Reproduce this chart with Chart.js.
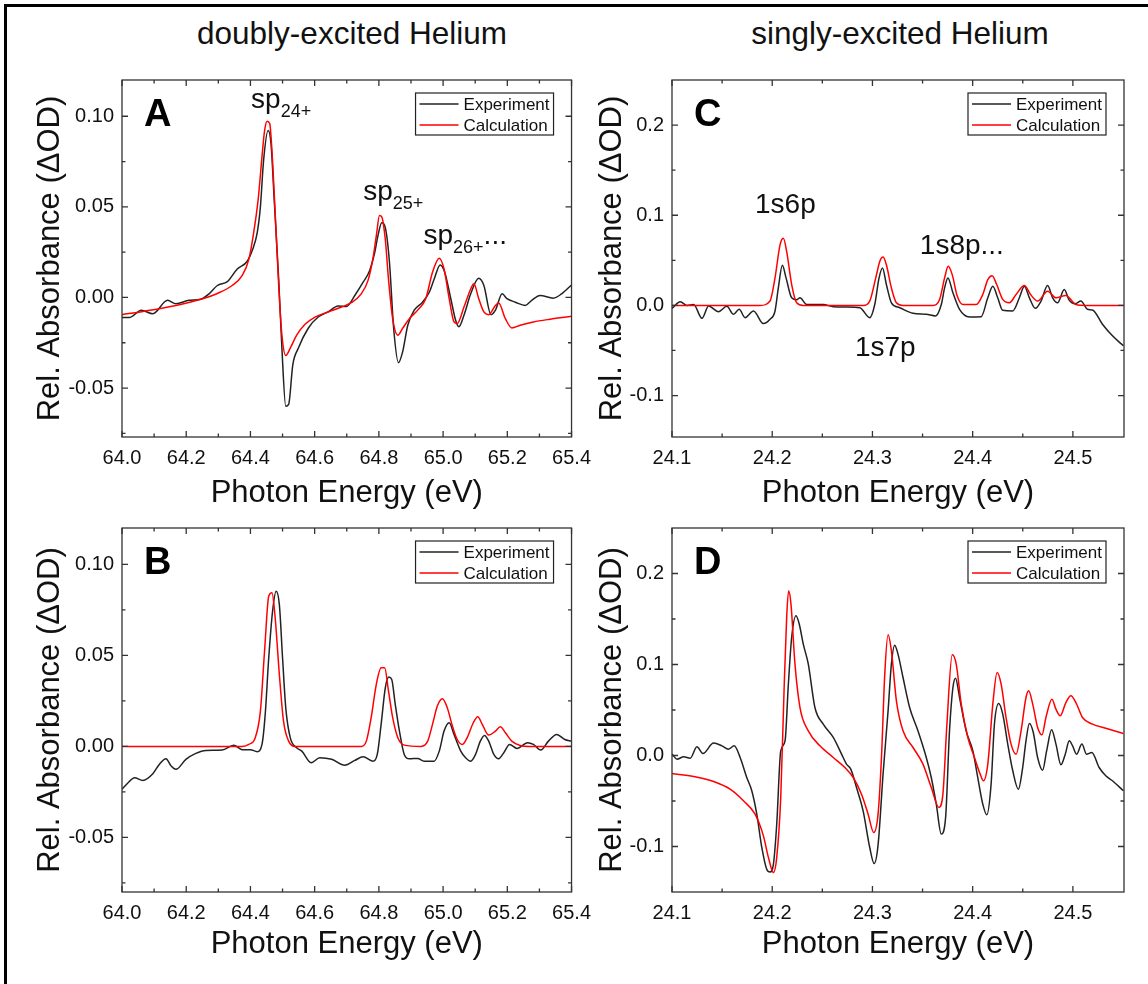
<!DOCTYPE html>
<html>
<head>
<meta charset="utf-8">
<script src="https://cdn.jsdelivr.net/npm/chart.js@4.4.0/dist/chart.umd.min.js"></script>
<style>
  body { margin: 0; background: #fff; width: 1148px; height: 984px; position: relative; overflow: hidden;
         font-family: Arial, "Liberation Sans", sans-serif; }
  #frame { position: absolute; left: 4px; top: 4px; width: 1200px; height: 1100px;
           border-top: 3px solid #000; border-left: 3px solid #000; }
  .hd { position: absolute; top: 15px; width: 500px; text-align: center; font-size: 31.5px; line-height: 36px; color: #111; }
  canvas { position: absolute; }
</style>
</head>
<body>
<div id="frame"></div>
<div class="hd" style="left:102px">doubly-excited Helium</div>
<div class="hd" style="left:650px">singly-excited Helium</div>
<canvas id="cA" width="600" height="460" style="left:0;top:60px"></canvas>
<canvas id="cB" width="600" height="476" style="left:0;top:508px"></canvas>
<canvas id="cC" width="588" height="460" style="left:560px;top:60px"></canvas>
<canvas id="cD" width="588" height="476" style="left:560px;top:508px"></canvas>

<script>
// axis ticks
const xTicksAB = [64.0, 64.2, 64.4, 64.6, 64.8, 65.0, 65.2, 65.4];
const xMinorAB = [64.1, 64.3, 64.5, 64.7, 64.9, 65.1, 65.3];
const yTicksAB = [-0.05, 0, 0.05, 0.10];
const yMinorAB = [-0.075, -0.025, 0.025, 0.075];
const xTicksCD = [24.1, 24.2, 24.3, 24.4, 24.5];
const xMinorCD = [24.15, 24.25, 24.35, 24.45];
const yTicksCD = [-0.1, 0, 0.1, 0.2];
const yMinorCD = [-0.05, 0.05, 0.15];

// panel A: doubly-excited, [eV, dOD]
const expA = [[64.000,-0.011],[64.024,-0.011],[64.060,-0.007],[64.096,-0.009],[64.142,-0.0016],[64.168,-0.0035],
  [64.209,-0.0016],[64.245,-0.001],[64.271,0.002],[64.297,0.0066],[64.328,0.0087],[64.359,0.0157],[64.390,0.020],
  [64.407,0.0266],[64.421,0.0357],[64.431,0.050],[64.441,0.0758],[64.455,0.0922],[64.464,0.085],[64.474,0.054],
  [64.488,0.010],[64.498,-0.028],[64.510,-0.060],[64.519,-0.059],[64.532,-0.037],[64.549,-0.028],[64.580,-0.017],
  [64.611,-0.0108],[64.642,-0.008],[64.673,-0.0047],[64.699,-0.005],[64.725,0.0011],[64.751,0.0084],[64.771,0.0148],
  [64.787,0.0248],[64.797,0.034],[64.809,0.0412],[64.820,0.0385],[64.833,0.0193],[64.846,-0.017],[64.861,-0.036],
  [64.874,-0.030],[64.890,-0.0153],[64.910,-0.007],[64.936,-0.0026],[64.957,0.0029],[64.972,0.010],[64.991,0.0179],
  [65.005,0.0139],[65.024,-0.0007],[65.039,-0.0126],[65.049,-0.0162],[65.065,-0.0098],[65.086,0.002],[65.111,0.0106],
  [65.127,0.0066],[65.149,-0.0095],[65.163,-0.007],[65.184,0.002],[65.199,-0.0007],[65.225,-0.0026],[65.256,-0.0044],
  [65.276,-0.0016],[65.302,0.0011],[65.343,-0.0004],[65.369,0.002],[65.400,0.0069]];
const calcA = [[64.000,-0.0095],[64.065,-0.0077],[64.168,-0.0044],[64.251,-0.0007],[64.302,0.0026],[64.343,0.0066],
  [64.374,0.012],[64.395,0.021],[64.410,0.0357],[64.424,0.054],[64.436,0.0777],[64.444,0.092],[64.452,0.0972],
  [64.460,0.096],[64.467,0.081],[64.477,0.0467],[64.488,0.0066],[64.498,-0.0208],[64.510,-0.032],[64.524,-0.028],
  [64.544,-0.0208],[64.570,-0.0148],[64.601,-0.0108],[64.642,-0.008],[64.684,-0.0053],[64.714,-0.0029],[64.745,0.002],
  [64.766,0.0093],[64.781,0.021],[64.792,0.034],[64.802,0.0452],[64.809,0.0445],[64.820,0.032],[64.830,0.010],
  [64.843,-0.0117],[64.859,-0.0208],[64.874,-0.017],[64.895,-0.0117],[64.921,-0.007],[64.946,-0.0007],[64.967,0.0139],
  [64.988,0.0217],[65.003,0.0157],[65.019,-0.0007],[65.034,-0.0135],[65.044,-0.0144],[65.065,-0.0053],[65.086,0.0047],
  [65.096,0.0075],[65.111,-0.0007],[65.127,-0.008],[65.142,-0.0095],[65.163,-0.0044],[65.173,-0.0031],[65.194,-0.0117],
  [65.214,-0.0168],[65.240,-0.0153],[65.281,-0.0135],[65.333,-0.012],[65.400,-0.0104]];

// panel B
const expB = [[64.000,-0.0236],[64.019,-0.020],[64.039,-0.0172],[64.065,-0.0187],[64.096,-0.015],[64.116,-0.0099],
  [64.137,-0.0068],[64.153,-0.0108],[64.168,-0.0126],[64.199,-0.0071],[64.230,-0.0038],[64.261,-0.0022],[64.312,-0.002],
  [64.348,0.0007],[64.374,-0.0018],[64.400,-0.0018],[64.421,-0.0029],[64.436,0.0011],[64.446,0.0176],[64.457,0.0487],
  [64.469,0.0744],[64.480,0.0853],[64.490,0.078],[64.500,0.0487],[64.510,0.0212],[64.524,0.0048],[64.544,-0.0007],
  [64.560,-0.0026],[64.589,-0.009],[64.616,-0.0062],[64.653,-0.0071],[64.694,-0.0103],[64.725,-0.0077],[64.751,-0.0057],
  [64.781,-0.0081],[64.795,-0.0044],[64.807,0.0121],[64.820,0.0322],[64.831,0.0381],[64.840,0.0368],[64.851,0.0231],
  [64.864,0.0084],[64.879,-0.0044],[64.895,-0.0068],[64.921,-0.0066],[64.941,-0.0081],[64.972,-0.0081],[64.988,-0.0026],
  [65.003,0.0084],[65.019,0.013],[65.034,0.0066],[65.055,-0.0026],[65.070,-0.0062],[65.086,-0.0081],[65.101,-0.0044],
  [65.116,0.0029],[65.129,0.006],[65.142,0.0029],[65.158,-0.0044],[65.173,-0.0068],[65.189,-0.0035],[65.207,0.0011],
  [65.230,-0.0011],[65.263,0.002],[65.281,0.0011],[65.304,-0.002],[65.328,0.0029],[65.354,0.0066],[65.379,0.0038],
  [65.400,0.0029]];
const calcB = [[64.000,0],[64.374,0],[64.395,0.0011],[64.415,0.0048],[64.431,0.0194],[64.444,0.0524],[64.457,0.0826],
  [64.467,0.0844],[64.477,0.0707],[64.490,0.0396],[64.503,0.0139],[64.519,0.0029],[64.539,0],[64.745,0],[64.761,0.0029],
  [64.776,0.0158],[64.792,0.0341],[64.807,0.0432],[64.818,0.0432],[64.830,0.0304],[64.843,0.0158],[64.859,0.0048],
  [64.879,0.0007],[64.931,0],[64.952,0.0029],[64.967,0.0121],[64.982,0.0222],[64.998,0.0262],[65.013,0.0212],
  [65.029,0.0112],[65.044,0.0038],[65.060,0.0011],[65.075,0.0048],[65.094,0.013],[65.108,0.0163],[65.122,0.0121],
  [65.142,0.0062],[65.163,0.0084],[65.178,0.0108],[65.194,0.0075],[65.214,0.0029],[65.240,0.0005],[65.271,0],[65.400,0]];

// panel C: singly-excited
const expC = [[24.1000,-0.0033],[24.1083,0.004],[24.1149,0],[24.1216,0.001],[24.1299,-0.0143],[24.1365,-0.0007],
  [24.1464,-0.007],[24.1547,-0.001],[24.1614,-0.0099],[24.1670,-0.0044],[24.1730,-0.0136],[24.1813,-0.0062],
  [24.1912,-0.0202],[24.1978,-0.0154],[24.2028,-0.0062],[24.2061,0.0194],[24.2101,0.0444],[24.2138,0.0305],
  [24.2194,0.0084],[24.2244,0.0062],[24.2277,0.0084],[24.2343,0.001],[24.2410,0.001],[24.2509,0.001],[24.2609,-0.0015],
  [24.2741,-0.0018],[24.2874,-0.0026],[24.2973,-0.0136],[24.3023,0.001],[24.3066,0.0305],[24.3100,0.0415],
  [24.3139,0.0231],[24.3189,0.0029],[24.3272,-0.0026],[24.3405,-0.0088],[24.3537,-0.0099],[24.3630,-0.0117],
  [24.3687,0.001],[24.3720,0.0194],[24.3753,0.0305],[24.3803,0.0139],[24.3869,-0.0044],[24.3968,-0.0128],
  [24.4085,-0.0125],[24.4151,0.0084],[24.4201,0.0213],[24.4250,0.0084],[24.4300,-0.0055],[24.4400,-0.0062],
  [24.4466,0.0084],[24.4516,0.0213],[24.4566,0.0084],[24.4625,-0.0033],[24.4682,0.0048],[24.4748,0.022],
  [24.4798,0.0084],[24.4847,0.0029],[24.4914,0.0176],[24.4964,0.0055],[24.5023,0.0018],[24.5080,0.0048],
  [24.5146,-0.0044],[24.5196,-0.0051],[24.5295,-0.0209],[24.5395,-0.0338],[24.5504,-0.0448]];
const calcC = [[24.1000,0],[24.1879,0],[24.1978,0.0048],[24.2028,0.0305],[24.2078,0.0672],[24.2111,0.0745],
  [24.2144,0.0598],[24.2194,0.0231],[24.2244,0.0029],[24.2310,0],[24.2907,0],[24.2973,0.0048],[24.3033,0.0305],
  [24.3073,0.0488],[24.3106,0.0536],[24.3139,0.0451],[24.3189,0.0194],[24.3239,0.0029],[24.3305,0],[24.3604,0],
  [24.3670,0.0066],[24.3720,0.0305],[24.3756,0.0433],[24.3796,0.0341],[24.3846,0.0103],[24.3902,0.001],[24.4035,0.001],
  [24.4101,0.0121],[24.4151,0.0286],[24.4194,0.033],[24.4240,0.0231],[24.4300,0.0066],[24.4367,0.0029],[24.4433,0.0121],
  [24.4516,0.022],[24.4582,0.0114],[24.4648,0.0048],[24.4748,0.0158],[24.4831,0.0084],[24.4930,0.011],[24.5030,0.001],
  [24.5129,0],[24.5504,0]];

// panel D
const expD = [[24.1000,0.0015],[24.1050,-0.004],[24.1116,-0.0015],[24.1182,-0.003],[24.1249,0.0095],[24.1308,0.0022],
  [24.1415,0.0136],[24.1498,0.0106],[24.1564,0.007],[24.1620,0.0106],[24.1680,-0.0022],[24.1746,-0.0242],
  [24.1796,-0.0388],[24.1846,-0.0645],[24.1896,-0.101],[24.1945,-0.125],[24.1978,-0.128],[24.2012,-0.1194],
  [24.2045,-0.0755],[24.2085,0.0051],[24.2128,0.0161],[24.2161,0.0784],[24.2194,0.1297],[24.2237,0.1535],
  [24.2270,0.1443],[24.2310,0.1223],[24.2360,0.1004],[24.2426,0.0527],[24.2509,0.0344],[24.2609,0.0198],
  [24.2692,0.0015],[24.2741,-0.0095],[24.2784,-0.015],[24.2841,-0.0352],[24.2907,-0.0608],[24.2973,-0.1011],
  [24.3017,-0.1187],[24.3056,-0.0985],[24.3106,-0.0205],[24.3156,0.0491],[24.3189,0.1004],[24.3222,0.1212],
  [24.3255,0.1114],[24.3305,0.0857],[24.3371,0.0527],[24.3454,0.0271],[24.3537,-0.0022],[24.3587,-0.0242],
  [24.3637,-0.0535],[24.3687,-0.0864],[24.3730,-0.0681],[24.3769,0.0271],[24.3803,0.0747],[24.3829,0.085],
  [24.3869,0.0637],[24.3935,0.0271],[24.4002,0.0051],[24.4051,-0.0242],[24.4101,-0.0535],[24.4141,-0.0652],
  [24.4184,-0.0315],[24.4217,0.0344],[24.4260,0.0571],[24.4300,0.0454],[24.4350,0.0125],[24.4400,-0.0168],
  [24.4456,-0.037],[24.4499,-0.0132],[24.4532,0.0161],[24.4566,0.0352],[24.4605,0.0253],[24.4648,-0.0022],
  [24.4698,-0.0161],[24.4738,0.0051],[24.4788,0.0282],[24.4831,0.0125],[24.4881,-0.0103],[24.4924,0.0015],
  [24.4964,0.0161],[24.4997,0.0106],[24.5036,0.0015],[24.5090,0.0125],[24.5136,0.0015],[24.5189,0.0033],
  [24.5262,-0.0132],[24.5328,-0.0223],[24.5395,-0.0278],[24.5504,-0.0388]];
const calcD = [[24.1000,-0.0198],[24.1216,-0.0231],[24.1415,-0.0286],[24.1580,-0.037],[24.1713,-0.0498],
  [24.1829,-0.0645],[24.1912,-0.0883],[24.1962,-0.112],[24.2012,-0.1286],[24.2045,-0.112],[24.2085,-0.0462],
  [24.2118,0.0711],[24.2144,0.1516],[24.2164,0.181],[24.2187,0.1663],[24.2227,0.1004],[24.2277,0.0527],
  [24.2360,0.0271],[24.2476,0.0106],[24.2609,-0.0022],[24.2725,-0.0132],[24.2808,-0.0242],[24.2891,-0.0425],
  [24.2957,-0.0645],[24.3013,-0.0846],[24.3056,-0.0645],[24.3090,-0.0022],[24.3123,0.0894],[24.3156,0.1326],
  [24.3189,0.115],[24.3239,0.0601],[24.3305,0.0271],[24.3405,0.0088],[24.3504,-0.0095],[24.3587,-0.0352],
  [24.3663,-0.0571],[24.3703,-0.0425],[24.3743,0.0344],[24.3796,0.1106],[24.3836,0.1004],[24.3886,0.0564],
  [24.3952,0.0198],[24.4018,-0.0022],[24.4075,-0.0205],[24.4108,-0.0278],[24.4151,-0.0095],[24.4201,0.0564],
  [24.4244,0.0912],[24.4284,0.0784],[24.4333,0.0418],[24.4383,0.0125],[24.4433,0.0015],[24.4483,0.0271],
  [24.4532,0.0637],[24.4559,0.0711],[24.4599,0.0564],[24.4648,0.0308],[24.4692,0.0227],[24.4731,0.0418],
  [24.4791,0.0619],[24.4831,0.0509],[24.4874,0.0436],[24.4930,0.0582],[24.4980,0.0656],[24.5030,0.0582],
  [24.5096,0.0418],[24.5196,0.0344],[24.5328,0.03],[24.5504,0.0242]];

// peak labels (anchored in data units)
const labelsA = [
  { x: 64.402, y: 0.1047, main: 'sp', sub: '24+', tail: '' },
  { x: 64.751, y: 0.054, main: 'sp', sub: '25+', tail: '' },
  { x: 64.939, y: 0.0294, main: 'sp', sub: '26+', tail: '...' }
];
const labelsC = [
  { x: 24.1828, y: 0.1027, main: '1s6p', sub: '', tail: '' },
  { x: 24.3473, y: 0.0566, main: '1s8p...', sub: '', tail: '' },
  { x: 24.2825, y: -0.0566, main: '1s7p', sub: '', tail: '' }
];

const FONT = 'Arial, "Liberation Sans", sans-serif';
Chart.defaults.font.family = FONT;
Chart.defaults.color = '#111';

function decorations(letter, labels, cfg) {
  return {
    id: 'deco' + letter,
    afterDatasetsDraw(chart) {
      const { ctx, chartArea: a, scales: { x, y } } = chart;
      ctx.save();
      // frame
      ctx.strokeStyle = '#333';
      ctx.lineWidth = 1.3;
      ctx.strokeRect(a.left, a.top, a.right - a.left, a.bottom - a.top);
      // inward ticks on all four sides
      ctx.beginPath();
      const xt = (vals, len) => vals.forEach(v => {
        const px = x.getPixelForValue(v);
        ctx.moveTo(px, a.bottom); ctx.lineTo(px, a.bottom - len);
        ctx.moveTo(px, a.top); ctx.lineTo(px, a.top + len);
      });
      const yt = (vals, len) => vals.forEach(v => {
        const py = y.getPixelForValue(v);
        ctx.moveTo(a.left, py); ctx.lineTo(a.left + len, py);
        ctx.moveTo(a.right, py); ctx.lineTo(a.right - len, py);
      });
      xt(cfg.xTicks, 6); xt(cfg.xMinor, 3.5);
      yt(cfg.yTicks, 6); yt(cfg.yMinor, 3.5);
      ctx.stroke();

      // panel letter
      ctx.fillStyle = '#000';
      ctx.font = 'bold 38px ' + FONT;
      ctx.textBaseline = 'alphabetic';
      ctx.textAlign = 'left';
      ctx.fillText(letter, a.left + 22, a.top + 46);

      // peak labels
      ctx.fillStyle = '#111';
      labels.forEach(l => {
        let px = x.getPixelForValue(l.x);
        const py = y.getPixelForValue(l.y);
        ctx.font = '28px ' + FONT;
        ctx.fillText(l.main, px, py);
        px += ctx.measureText(l.main).width;
        if (l.sub) {
          ctx.font = '18px ' + FONT;
          ctx.fillText(l.sub, px, py + 9);
          px += ctx.measureText(l.sub).width;
        }
        if (l.tail) {
          ctx.font = '28px ' + FONT;
          ctx.fillText(l.tail, px, py);
        }
      });

      // legend box
      const bw = 138, bh = 42;
      const bx = a.right - 18 - bw, by = a.top + 13;
      ctx.fillStyle = '#fff';
      ctx.fillRect(bx, by, bw, bh);
      ctx.strokeStyle = '#222';
      ctx.lineWidth = 1.2;
      ctx.strokeRect(bx, by, bw, bh);
      ctx.font = '17px ' + FONT;
      ctx.textBaseline = 'middle';
      chart.data.datasets.forEach((ds, i) => {
        const ly = by + 11 + i * 21;
        ctx.strokeStyle = ds.borderColor;
        ctx.lineWidth = 1.3;
        ctx.beginPath();
        ctx.moveTo(bx + 4, ly); ctx.lineTo(bx + 43, ly);
        ctx.stroke();
        ctx.fillStyle = '#111';
        ctx.fillText(ds.label, bx + 48, ly + 1);
      });
      ctx.restore();
    }
  };
}

function makePanel(id, letter, exp, calc, labels, cfg) {
  new Chart(document.getElementById(id), {
    type: 'line',
    data: {
      datasets: [
        { label: 'Experiment', data: exp.map(p => ({ x: p[0], y: p[1] })), borderColor: '#222', borderWidth: 1.5, order: 2 },
        { label: 'Calculation', data: calc.map(p => ({ x: p[0], y: p[1] })), borderColor: '#ff0000', borderWidth: 1.5, order: 1 }
      ]
    },
    options: {
      responsive: false,
      animation: false,
      layout: { padding: cfg.pad },
      elements: { point: { radius: 0 }, line: { cubicInterpolationMode: 'monotone' } },
      plugins: { legend: { display: false }, tooltip: { enabled: false } },
      scales: {
        x: {
          type: 'linear', min: cfg.xMin, max: cfg.xMax,
          grid: { display: false, drawTicks: false }, border: { display: false },
          afterBuildTicks: ax => { ax.ticks = cfg.xTicks.map(v => ({ value: v })); },
          afterFit: ax => { ax.height = cfg.xH; },
          ticks: { font: { size: 20 }, padding: 9, maxRotation: 0, autoSkip: false, callback: v => v.toFixed(1) },
          title: { display: true, text: 'Photon Energy (eV)', font: { size: 31 }, padding: { top: 0, bottom: 5 } }
        },
        y: {
          type: 'linear', min: cfg.yMin, max: cfg.yMax,
          grid: { display: false, drawTicks: false }, border: { display: false },
          afterBuildTicks: ax => { ax.ticks = cfg.yTicks.map(v => ({ value: v })); },
          afterFit: ax => { ax.width = cfg.yW; },
          ticks: { font: { size: 20 }, padding: 8, autoSkip: false, callback: v => v.toFixed(cfg.yDec) },
          title: { display: true, text: 'Rel. Absorbance (ΔOD)', font: { size: 31 }, padding: { top: 7, bottom: 0 } }
        }
      }
    },
    plugins: [decorations(letter, labels, cfg)]
  });
}

const ab = { xMin: 64.0, xMax: 65.4, xTicks: xTicksAB, xMinor: xMinorAB, yTicks: yTicksAB, yMinor: yMinorAB, yDec: 2, yW: 97 };
const cd = { xMin: 24.1, xMax: 24.551, xTicks: xTicksCD, xMinor: xMinorCD, yTicks: yTicksCD, yMinor: yMinorCD, yDec: 1, yW: 85 };

makePanel('cA', 'A', expA, calcA, labelsA, Object.assign({}, ab, { yMin: -0.077, yMax: 0.12, xH: 80, pad: { left: 25, top: 16, right: 25, bottom: 3 } }));
makePanel('cB', 'B', expB, calcB, [], Object.assign({}, ab, { yMin: -0.08, yMax: 0.12, xH: 76, pad: { left: 25, top: 16, right: 25, bottom: 16 } }));
makePanel('cC', 'C', expC, calcC, labelsC, Object.assign({}, cd, { yMin: -0.146, yMax: 0.25, xH: 80, pad: { left: 27, top: 16, right: 24, bottom: 3 } }));
makePanel('cD', 'D', expD, calcD, [], Object.assign({}, cd, { yMin: -0.15, yMax: 0.25, xH: 76, pad: { left: 27, top: 16, right: 24, bottom: 16 } }));
</script>
</body>
</html>
